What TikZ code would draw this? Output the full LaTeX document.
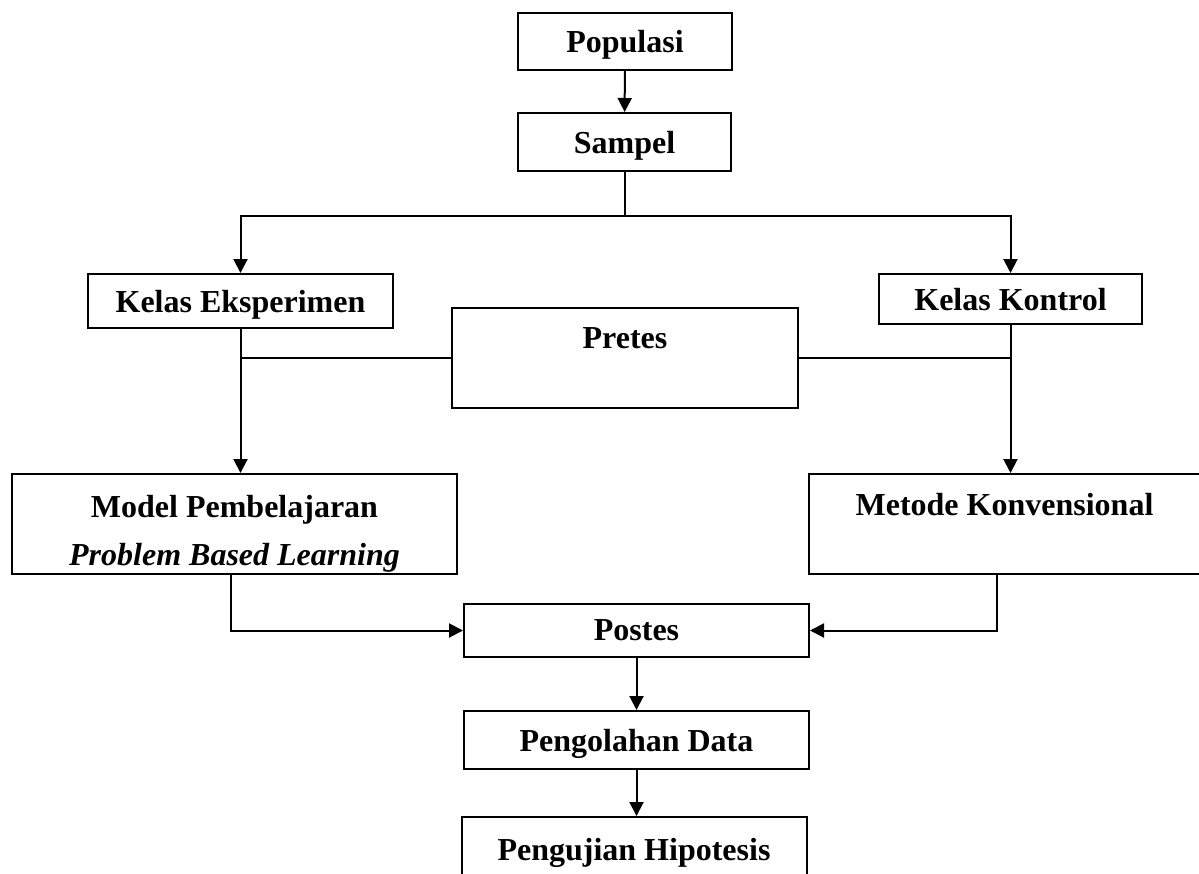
\documentclass[tikz,border=0pt]{standalone}
\usepackage{fontspec}
\setmainfont{Liberation Serif}
\usetikzlibrary{arrows.meta,positioning}
\tikzset{
    %Define standard arrow tip
    >={Triangle[length=7pt,width=7pt]},
    %Define style for boxes
    stage/.style={
           rectangle,
           draw=black, line width=1pt,
           inner sep=0pt,
           font=\fontsize{16pt}{24pt}\selectfont\bfseries,
           text centered,
           align=center},
    % Define style for one-line boxes
    one/.style={
           stage,
           text depth=0pt},
    % Define arrow style
    pil/.style={
           ->,
           line width=1pt},
    lin/.style={
           line width=1pt}
}
\begin{document}
\begin{tikzpicture}[x=0.5pt,y=-0.5pt]
\useasboundingbox (0,0) rectangle (1199,873);
\node[one, minimum width=107pt, minimum height=28.5pt] (Pop) at (625,41.5) {Populasi};
\node[one, minimum width=106.5pt, minimum height=29pt] (Sam) at (624.5,142) {Sampel};
\node[one, minimum width=152.5pt, minimum height=27pt] (Eks) at (240.5,301) {Kelas Eksperimen};
\node[one, minimum width=131.5pt, minimum height=25pt] (Kon) at (1010.5,299) {Kelas Kontrol};
\node[stage, minimum width=173pt, minimum height=50pt] (Pre) at (625,358) {Pretes\\[-4pt]\mbox{}};
\node[stage, minimum width=222.5pt, minimum height=50pt] (Mod) at (234.5,524) {\rule{0pt}{20.5pt}Model Pembelajaran\\\textit{Problem Based Learning}};
\node[stage, minimum width=195.5pt, minimum height=50pt] (Met) at (1004.5,524) {Metode Konvensional\\[-4pt]\mbox{}};
\node[one, minimum width=172.5pt, minimum height=26.5pt] (Pos) at (636.5,630.5) {Postes};
\node[one, minimum width=172.5pt, minimum height=29pt] (Pen) at (636.5,740) {Pengolahan Data};
\node[one, minimum width=172.5pt, minimum height=32pt] (Uji) at (634,849) {Pengujian Hipotesis};
\coordinate (Bagi) at (624.5,216);
\path[pil]
	(Pop) edge (Sam)
	(Pos.south) edge (Pos.south |- Pen.north)
	(Pen.south) edge (Pen.south |- Uji.north);
\draw[lin] (Sam) -- (Bagi);
\draw[pil] (Bagi) -| (Eks);
\draw[pil] (Bagi) -| (Kon);
\draw[pil] (Eks.south) -- (Eks.south |- Mod.north);
\draw[pil] (Kon.south) -- (Kon.south |- Met.north);
\draw[lin] (Pre.west) -- (Pre.west -| Eks.south);
\draw[lin] (Pre.east) -- (Pre.east -| Kon.south);
\draw[pil] ([xshift=-2pt]Mod.south) |- (Pos);
\draw[pil] ([xshift=-4pt]Met.south) |- (Pos);
\end{tikzpicture}
\end{document}
